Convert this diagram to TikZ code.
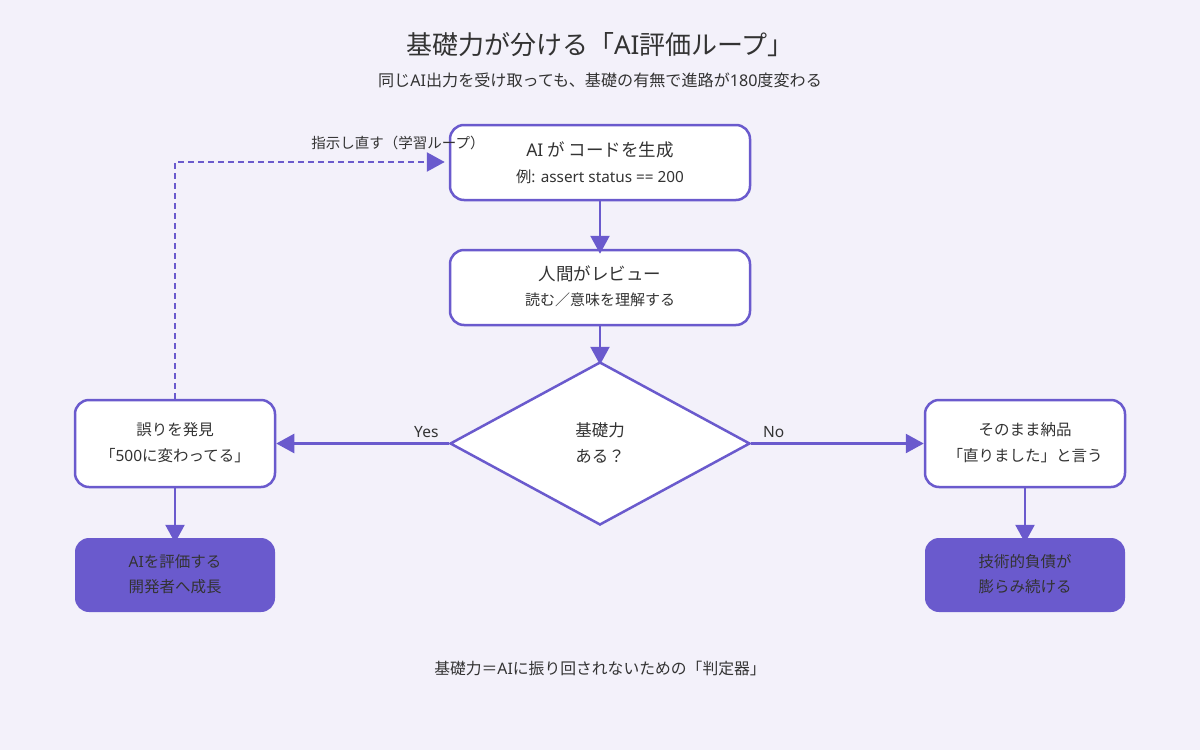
\documentclass[tikz,border=0pt]{standalone}
\usepackage{fontspec}
\setmainfont{Noto Sans CJK JP}
\newfontfamily\lat{Noto Sans}
\usetikzlibrary{arrows.meta,shapes.geometric}
\definecolor{bg}{HTML}{F3F1FA}
\definecolor{acc}{HTML}{6A5ACD}
\definecolor{txt}{HTML}{333333}
\tikzset{
  box/.style={draw=acc, line width=2.5pt, fill=white, rounded corners=14pt, minimum width=300pt, minimum height=75pt, align=center, text=txt, inner sep=0pt},
  sbox/.style={box, minimum width=200pt, minimum height=87pt},
  fbox/.style={fill=acc, rounded corners=14pt, minimum width=200pt, minimum height=74pt, align=center, text=txt, inner sep=0pt},
  dia/.style={draw=acc, line width=2.5pt, fill=white, diamond, minimum width=300pt, minimum height=163pt, inner sep=0pt, align=center, text=txt},
  conn/.style={draw=acc, line width=2.5pt, -{Triangle[length=18pt,width=19pt]}},
  lbl/.style={text=txt, font=\fontsize{15.5}{18}\selectfont},
}
\begin{document}
\begin{tikzpicture}[x=1pt,y=-1pt]
\fill[bg] (0,0) rectangle (1200,750);
\useasboundingbox (0,0) rectangle (1200,750);
\node[text=txt, font=\fontsize{26}{30}\selectfont] (title) at (600,45) {基礎力が分ける「{\lat AI}評価ループ」};
\node[text=txt, font=\fontsize{16.1}{19}\selectfont] (sub) at (600,80) {同じ{\lat AI}出力を受け取っても、基礎の有無で進路が{\lat 180}度変わる};

\node[box] (gen) at (600,162.5) {};
\node[text=txt, font=\fontsize{17.5}{20}\selectfont] (genA) at (600,150) {{\lat AI} が コードを生成};
\node[text=txt, font=\fontsize{15.3}{18}\selectfont] (genB) at (600,177) {例{\lat : assert status == 200}};

\node[box] (rev) at (600,287.5) {};
\node[text=txt, font=\fontsize{17.5}{20}\selectfont] (revA) at (600,274) {人間がレビュー};
\node[text=txt, font=\fontsize{15}{18}\selectfont] (revB) at (600,300) {読む／意味を理解する};

\node[dia] (q) at (600,443.5) {};
\node[text=txt, font=\fontsize{16.5}{20}\selectfont] (qA) at (600,430) {基礎力};
\node[text=txt, font=\fontsize{16.5}{20}\selectfont] (qB) at (600,456) {ある？};

\node[sbox] (err) at (175,443.5) {};
\node[lbl] (errA) at (175,430) {誤りを発見};
\node[lbl] (errB) at (175,456) {「{\lat 500}に変わってる」};

\node[sbox] (ship) at (1025,443.5) {};
\node[lbl] (shipA) at (1025,430) {そのまま納品};
\node[lbl] (shipB) at (1025,456) {「直りました」と言う};

\node[fbox] (grow) at (175,575) {};
\node[lbl] (growA) at (175,562) {{\lat AI}を評価する};
\node[lbl] (growB) at (175,587) {開発者へ成長};

\node[fbox] (debt) at (1025,575) {};
\node[lbl] (debtA) at (1025,562) {技術的負債が};
\node[lbl] (debtB) at (1025,587) {膨らみ続ける};

\draw[conn] (gen.south) -- ([yshift=-5pt]rev.north);
\draw[conn] (rev.south) -- ([yshift=-4pt]q.north);
\draw[conn] (q.west) -- (err.east) node[pos=0.13, above=1pt, lbl] {\lat Yes};
\draw[conn] (q.east) -- (ship.west) node[pos=0.13, above=1pt, lbl] {\lat No};
\draw[conn] (err.south) -- ([yshift=-5pt]grow.north);
\draw[conn] (ship.south) -- ([yshift=-5pt]debt.north);
\coordinate (corner) at (175,162);
\draw[conn, dashed, dash pattern=on 6pt off 4pt] (err.north) -- (corner) -- ([xshift=-4pt]gen.west |- corner);
\node[text=txt, font=\fontsize{14.5}{18}\selectfont] (loop) at (398,143) {指示し直す（学習ループ）};

\node[text=txt, font=\fontsize{15.8}{18}\selectfont] (foot) at (600,668) {基礎力＝{\lat AI}に振り回されないための「判定器」};
\end{tikzpicture}
\end{document}
